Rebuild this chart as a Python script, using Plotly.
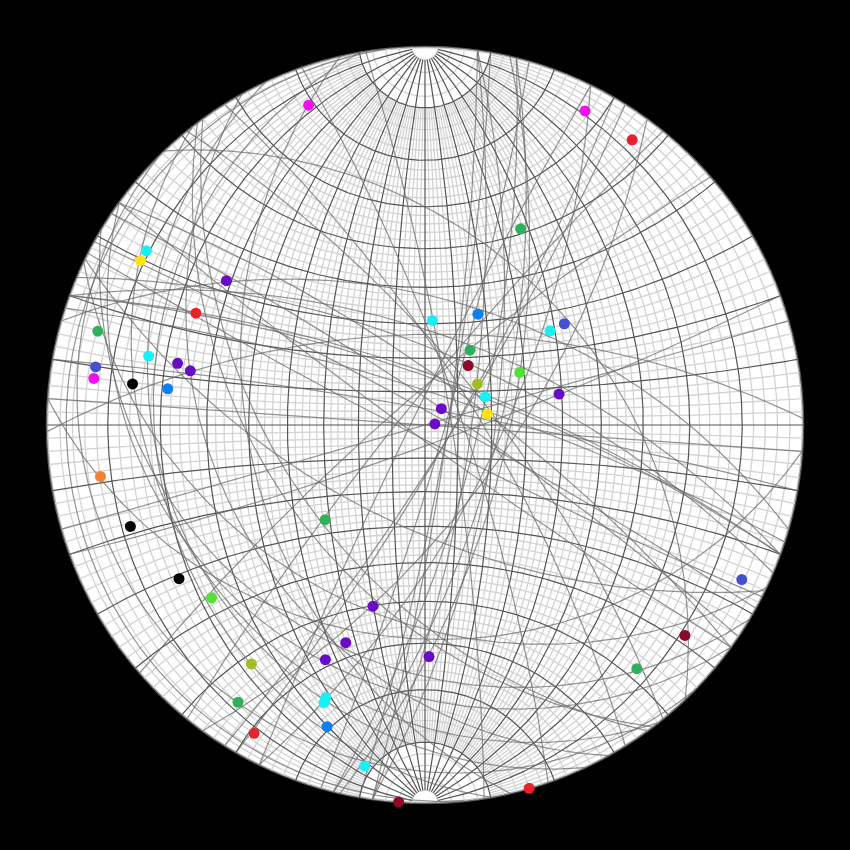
import numpy as np
import plotly.graph_objects as go

# ---- Data: poles to planes, read from the net (degrees) ----
pole_trend = [340, 27, 36, 26, 302, 300, 306, 296, 286, 4, 25.5, 54, 53, 31, 36, 284, 284, 283, 280, 278, 278, 278, 61, 52, 65, 77, 45, 84, 80, 261, 251, 226.5, 238, 231, 116, 196, 129, 200, 179, 203, 216, 139, 214, 200, 200, 198, 209, 190, 184, 164]
pole_plunge = [6, 4, 4, 30, 8, 8, 24, 22, 6, 59, 54, 41, 45, 64, 68, 16, 22, 25, 7, 7, 14, 21, 58, 70, 70, 50, 83, 87, 71, 8, 11, 50, 15, 18, 4, 37, 7, 27, 27, 22, 14, 9, 7, 15, 14, 10, 4, 5, 0, 0]
MAG, RED, GRN, CYN, YEL, PUR, BLU, IND, DRD, BLK, LIM, OLV, ORG = (
    "#f00ff0", "#e9232b", "#2fb15b", "#19f0f5", "#fde30f", "#6a0cc6", "#0c7ff2",
    "#4450d0", "#8b0a26", "#000000", "#55e035", "#a3bb25", "#f58030")
pole_color = [MAG, MAG, RED, GRN, CYN, YEL, PUR, RED, GRN, CYN, BLU, IND, CYN, GRN, DRD, CYN, PUR, PUR, IND, MAG, BLK, BLU, LIM, OLV, CYN, PUR, PUR, PUR, YEL, ORG, BLK, GRN, BLK, LIM, IND, PUR, DRD, PUR, PUR, PUR, OLV, GRN, GRN, CYN, CYN, BLU, RED, CYN, DRD, RED]

# Net construction constants
FINE_STEP = 2      # degrees between light net lines
MAJOR_STEP = 10    # degrees between dark net lines
FINE_END = 80      # light meridians stop at this latitude
MAJOR_END = 88     # dark meridians stop at this latitude
R_PX = 378         # primitive radius in pixels
SIZE = 850


def stereo(X, Y, Z):
    return X / (1 + Z), Y / (1 + Z)


def meridian(lon, lat_end):
    lat = np.radians(np.linspace(-lat_end, lat_end, 181))
    lo = np.radians(lon)
    return stereo(np.cos(lat) * np.sin(lo), np.sin(lat), np.cos(lat) * np.cos(lo))


def parallel(lat):
    lo = np.radians(np.linspace(-90, 90, 181))
    la = np.radians(lat)
    return stereo(np.cos(la) * np.sin(lo), np.full_like(lo, np.sin(la)), np.cos(la) * np.cos(lo))


def join(curves):
    xs, ys = [], []
    for cx, cy in curves:
        xs += list(cx) + [None]
        ys += list(cy) + [None]
    return xs, ys


def plane_of_pole(trend, plunge):
    tr, pl = np.radians(trend), np.radians(plunge)
    a = np.array([np.cos(tr), -np.sin(tr), 0.0])                       # strike (E, N, down)
    b = np.array([-np.sin(tr) * np.sin(pl), -np.cos(tr) * np.sin(pl), np.cos(pl)])  # dip vector
    t = np.linspace(0, np.pi, 241)[:, None]
    v = a * np.cos(t) + b * np.sin(t)
    return stereo(v[:, 0], v[:, 1], v[:, 2])


fine, major = [], []
for d in range(-88, 89, FINE_STEP):
    if d % MAJOR_STEP == 0:
        major.append(meridian(d, MAJOR_END))
    else:
        fine.append(meridian(d, FINE_END))
for d in range(-88, 89, FINE_STEP):
    (major if d % MAJOR_STEP == 0 else fine).append(parallel(d))

planes = [plane_of_pole(t, p) for t, p in zip(pole_trend, pole_plunge)]

tr = np.radians(pole_trend)
pl = np.radians(pole_plunge)
px, py = stereo(np.cos(pl) * np.sin(tr), np.cos(pl) * np.cos(tr), np.sin(pl))

fig = go.Figure()
fx, fy = join(fine)
fig.add_trace(go.Scatter(x=fx, y=fy, mode="lines", line=dict(color="#d3d3d3", width=1.3), hoverinfo="skip"))
mx, my = join(major)
fig.add_trace(go.Scatter(x=mx, y=my, mode="lines", line=dict(color="#555555", width=1.2), hoverinfo="skip"))
gx, gy = join(planes)
fig.add_trace(go.Scatter(x=gx, y=gy, mode="lines", line=dict(color="rgba(105,105,105,0.72)", width=1.2), hoverinfo="skip"))
fig.add_trace(go.Scatter(x=px, y=py, mode="markers", marker=dict(size=11, color=pole_color, line=dict(width=0)), cliponaxis=False))

half = (SIZE / 2) / R_PX
ring = dict(type="circle", xref="x", yref="y", x0=-1, y0=-1, x1=1, y1=1)
fig.update_layout(
    width=SIZE, height=SIZE, margin=dict(l=0, r=0, t=0, b=0),
    paper_bgcolor="#000000", plot_bgcolor="#000000", showlegend=False,
    xaxis=dict(range=[-half, half], visible=False, fixedrange=True),
    yaxis=dict(range=[-half, half], visible=False, fixedrange=True),
    shapes=[dict(ring, fillcolor="#ffffff", line=dict(color="rgba(150,150,150,0.6)", width=2.5), layer="below")],
)
fig.write_html("out.html", config=dict(displayModeBar=False),
               post_script="document.body.style.margin='0';document.body.style.background='#000';document.documentElement.style.overflow='hidden';")
